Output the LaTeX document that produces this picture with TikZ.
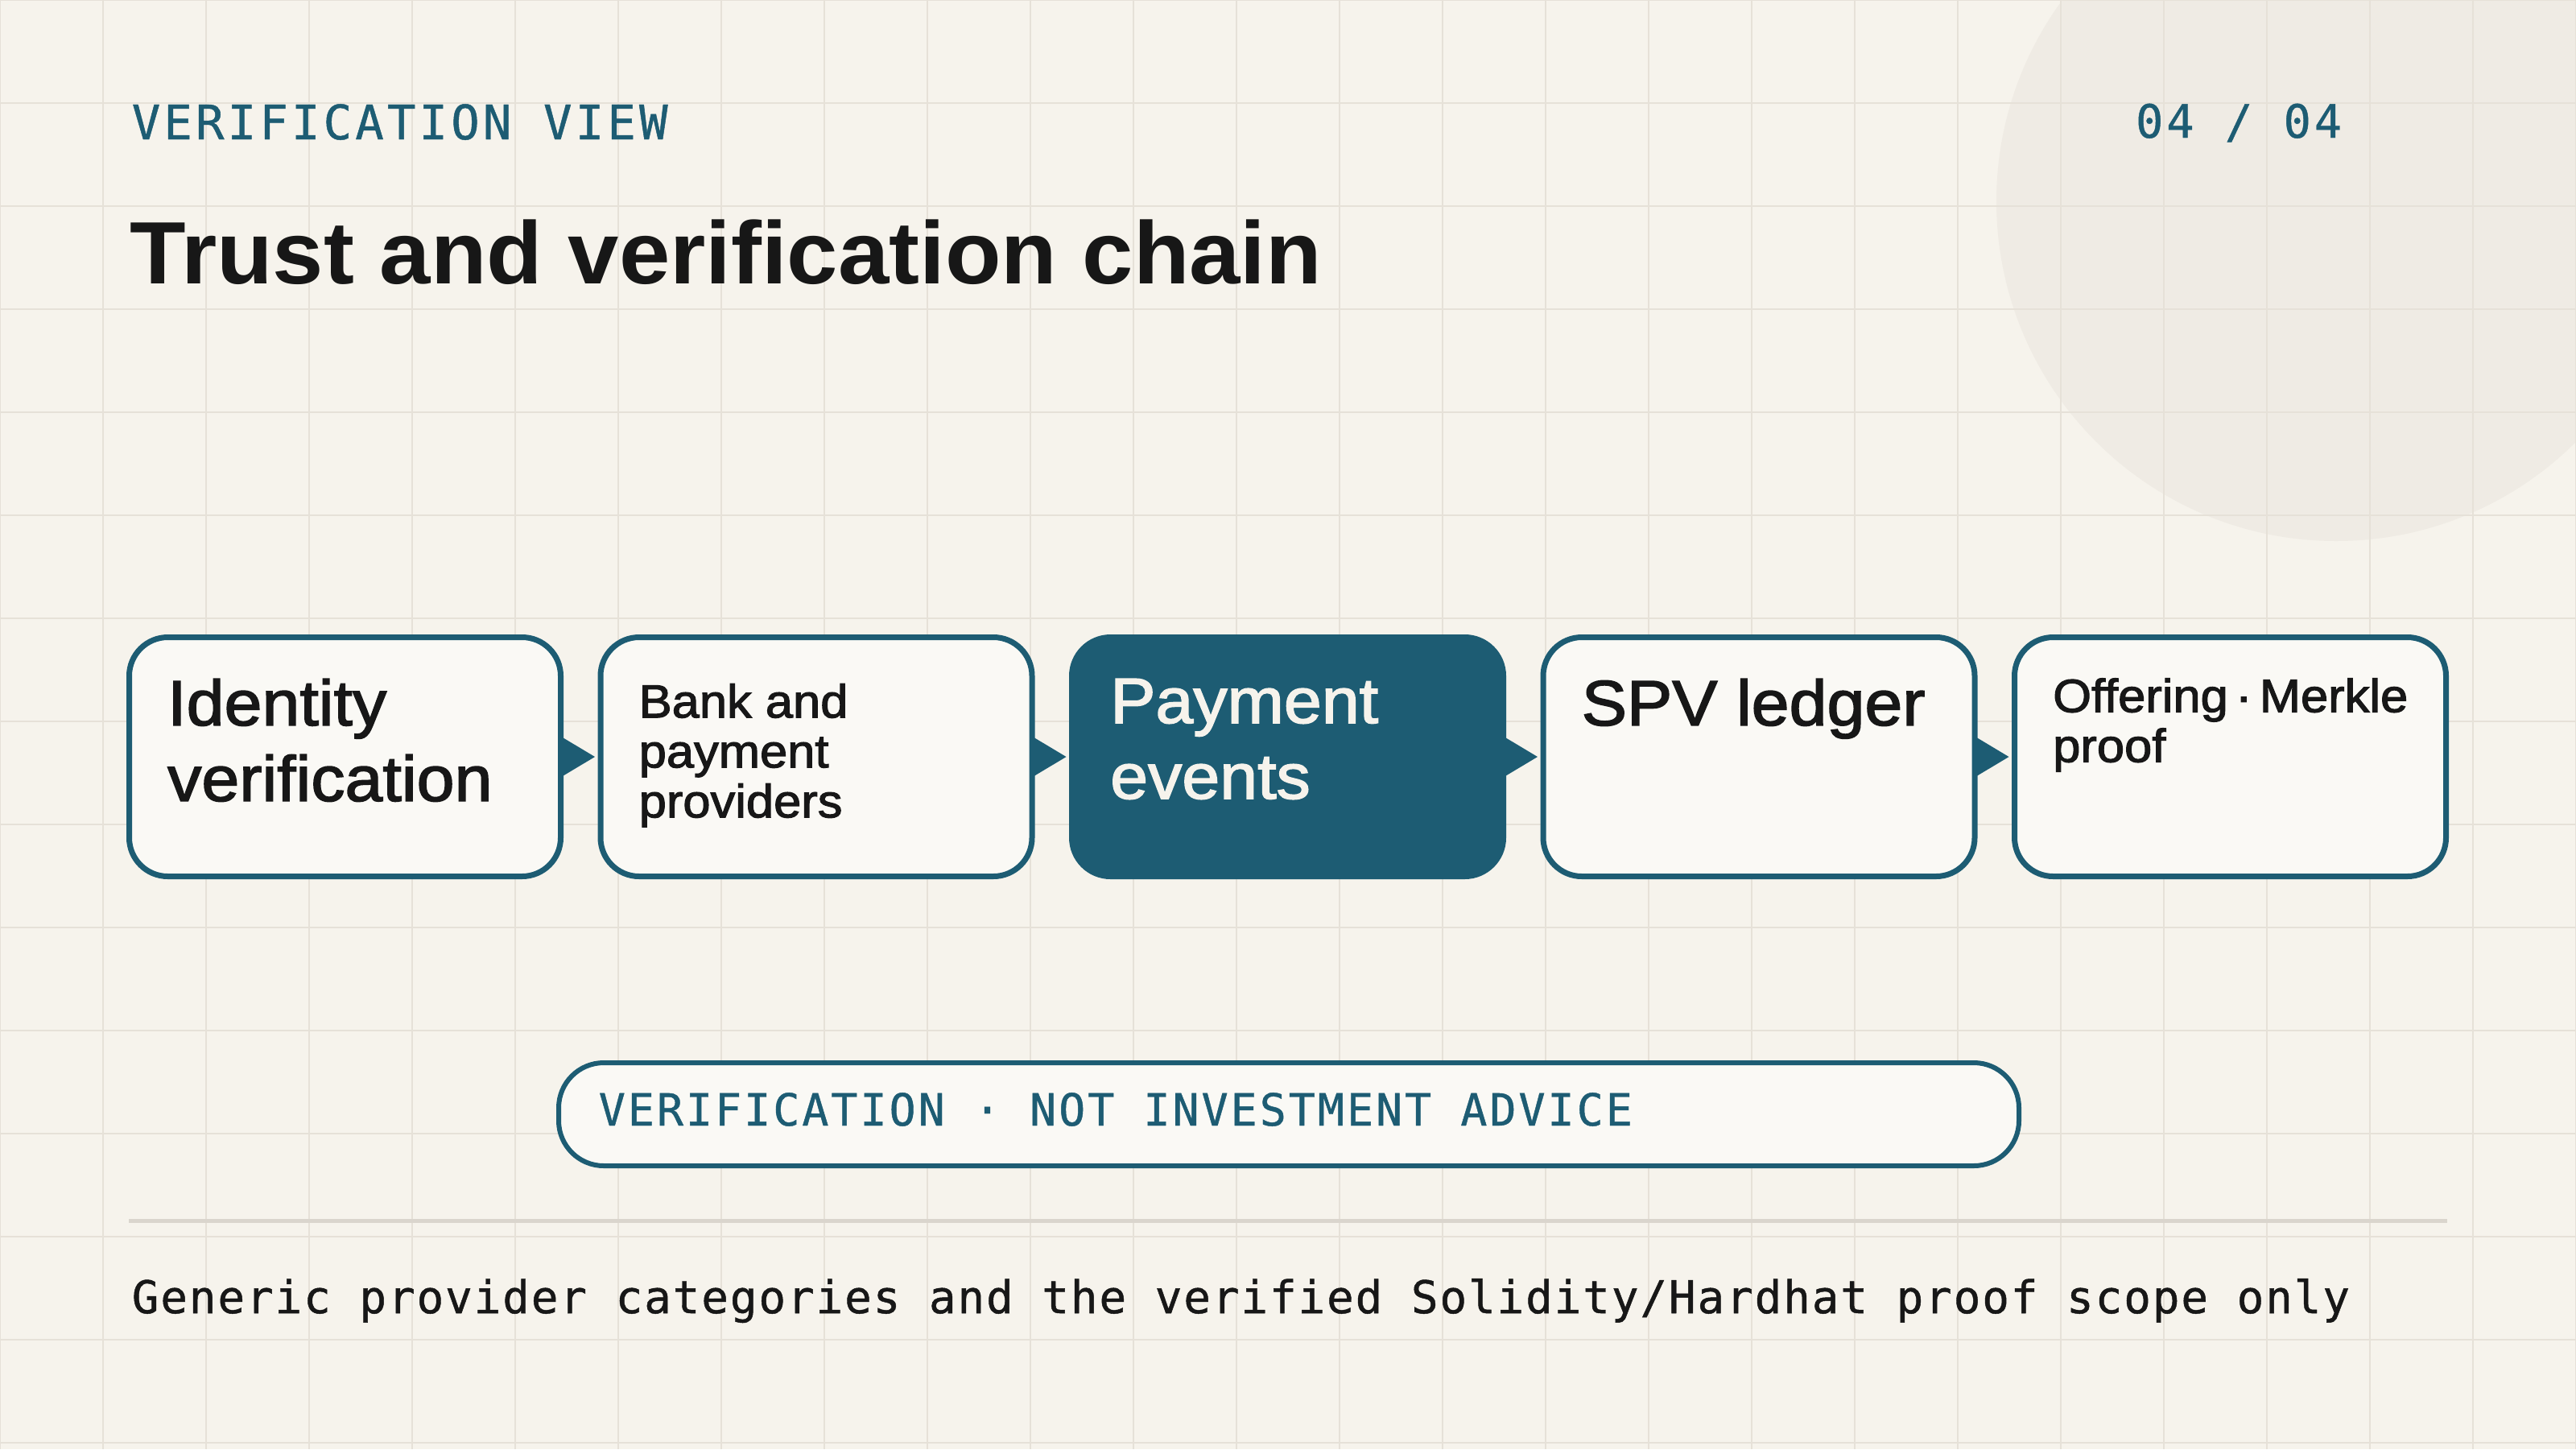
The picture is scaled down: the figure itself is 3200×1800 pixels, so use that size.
\documentclass[tikz,border=0pt]{standalone}
\usepackage{fontspec}
\setmainfont{Liberation Sans}
\newfontfamily\hdrmono[LetterSpace=7.0,FakeBold=0.8]{DejaVu Sans Mono}
\newfontfamily\pillmono[LetterSpace=5.4,FakeBold=0.8]{DejaVu Sans Mono}
\newfontfamily\footmono[LetterSpace=3.3,FakeBold=0.8]{DejaVu Sans Mono}
\newfontfamily\boxsans[FakeStretch=1.06,FakeBold=2.0]{Liberation Sans}
\newfontfamily\titlesans[FakeStretch=1.035]{Liberation Sans}
\usetikzlibrary{arrows.meta}
\definecolor{bgc}{HTML}{F6F3EC}
\definecolor{gridc}{HTML}{E6E1D8}
\definecolor{circc}{HTML}{EFEBE4}
\definecolor{tealc}{HTML}{1D5C73}
\definecolor{boxfill}{HTML}{FAF9F5}
\definecolor{ink}{HTML}{171717}
\definecolor{rulec}{HTML}{DAD5CD}
\definecolor{cream}{HTML}{F6F3EC}
\begin{document}
\begin{tikzpicture}[x=0.25pt,y=-0.25pt,
  gridline/.style={draw=gridc, line width=0.5pt},
  stepbox/.style={draw=tealc, line width=1.75pt, fill=boxfill, rounded corners=12pt,
    minimum width=134pt, minimum height=74.25pt, inner sep=0pt},
  hotbox/.style={stepbox, fill=tealc},
  bigtxt/.style={anchor=north west, inner sep=0pt, align=left, text=ink,
    font=\boxsans\fontsize{19.9pt}{23.5pt}\selectfont},
  smalltxt/.style={anchor=north west, inner sep=0pt, align=left, text=ink,
    font=\boxsans\fontsize{14.5pt}{15.5pt}\selectfont},
  flow/.style={draw=tealc, fill=tealc, line width=0.5pt,
    -{Triangle[length=10.75pt,width=12.75pt]}, shorten >=0.875pt},
  pill/.style={draw=tealc, line width=1.5pt, fill=boxfill, rounded corners=14pt,
    minimum width=453.5pt, minimum height=32pt, inner sep=0pt},
  pilltxt/.style={anchor=base west, inner sep=0pt, text=tealc,
    font=\pillmono\fontsize{13.75pt}{16pt}\selectfont},
  kicker/.style={inner sep=0pt, text=tealc, font=\hdrmono\fontsize{14.75pt}{17pt}\selectfont},
]
% background
\fill[bgc] (0,0) rectangle (3200,1800);
\useasboundingbox (0,0) rectangle (3200,1800);
\fill[circc] (2902,250) circle[radius=105.5pt];
\foreach \i in {0,128,...,3200} \draw[gridline] (\i,0) -- (\i,1800);
\foreach \j in {0,128,...,1792} \draw[gridline] (0,\j) -- (3200,\j);

% header
\node[kicker, anchor=base west] (kick) at (163,173) {VERIFICATION VIEW};
\node[kicker, anchor=base east, font=\hdrmono\fontsize{14.25pt}{17pt}\selectfont] (page) at (2910,171) {04 / 04};
\node[anchor=base west, inner sep=0pt, text=ink, font=\titlesans\bfseries\fontsize{27.5pt}{32pt}\selectfont] (title) at (161,352) {Trust and verification chain};

% boxes
\node[stepbox] (b1) at (428.5,940) {};
\node[stepbox] (b2) at (1014,940) {};
\node[hotbox]  (b3) at (1599.5,940) {};
\node[stepbox] (b4) at (2185,940) {};
\node[stepbox] (b5) at (2770.5,940) {};

\node[bigtxt] (t1) at ([xshift=12.6pt,yshift=-13.6pt]b1.north west) {Identity\\verification};
\node[smalltxt] (t2) at ([xshift=12.6pt,yshift=-15.1pt]b2.north west) {Bank and\\payment\\providers};
\node[bigtxt, text=cream] (t3) at ([xshift=12.6pt,yshift=-13.6pt]b3.north west) {Payment\\events};
\node[bigtxt] (t4) at ([xshift=12.6pt,yshift=-13.6pt]b4.north west) {SPV ledger};
\node[smalltxt] (t5) at ([xshift=12.6pt,yshift=-13.4pt]b5.north west) {Offering\hspace{0.16em}·\hspace{0.16em}Merkle\\proof};

\draw[flow] (b1.east) -- (b2.west);
\draw[flow] (b2.east) -- (b3.west);
\draw[flow] (b3.east) -- (b4.west);
\draw[flow] (b4.east) -- (b5.west);

% pill
\node[pill] (note) at (1601,1384) {};
\node[pilltxt] (notetxt) at (743,1398) {VERIFICATION · NOT INVESTMENT ADVICE};

% divider and footer
\draw[rulec, line width=1.25pt] (160,1516) -- (3040,1516);
\node[anchor=base west, inner sep=0pt, text=ink, font=\footmono\fontsize{14pt}{17pt}\selectfont] (foot) at (163,1631) {Generic provider categories and the verified Solidity/Hardhat proof scope only};
\end{tikzpicture}
\end{document}
